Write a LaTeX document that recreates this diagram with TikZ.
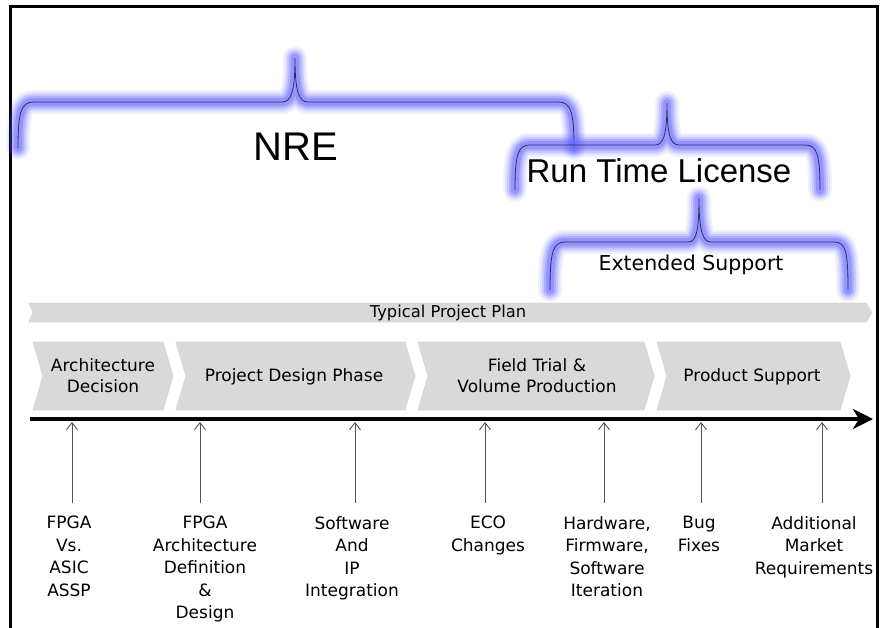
\documentclass[tikz,border=0pt]{standalone}
\usepackage{fontspec}
\setmainfont{Liberation Sans}
\newfontfamily\pixfont{DejaVu Sans}
\usetikzlibrary{arrows.meta}
\definecolor{glowblue}{RGB}{100,100,255}
\definecolor{coreline}{RGB}{45,45,95}
\definecolor{chevfill}{RGB}{217,217,217}
\definecolor{chevedge}{RGB}{228,210,205}
\definecolor{upgray}{RGB}{85,85,85}
\newcommand\glowbrace[1]{%
  \foreach \w/\o in {24/0.08,20/0.12,16/0.18,12/0.25,8/0.35}{%
    \draw[glowblue, line width=\w pt, opacity=\o, line cap=round, line join=round] #1;}%
  \draw[coreline, line width=0.8pt] #1;}
\tikzset{
  chev/.style={fill=chevfill, draw=chevedge, line width=0.8pt},
  chevtext/.style={font=\pixfont\fontsize{17}{21}\selectfont, align=center, inner sep=0pt},
  bottomtext/.style={font=\pixfont\fontsize{17}{22.5}\selectfont, align=center, inner sep=0pt, anchor=north},
  uparrow/.style={draw=upgray, line width=0.9pt, -{Straight Barb[length=7pt,width=11pt]}},
  timeline/.style={line width=4pt, -{Stealth[length=20pt,width=20pt,inset=6pt]}},
}
\begin{document}
\begin{tikzpicture}[x=1pt,y=-1pt]
\useasboundingbox (0,0) rectangle (881,627);
\fill[white] (0,0) rectangle (881,627);
% frame
\draw[line width=3pt] (10,630) -- (10,6) -- (877,6) -- (877,630);

% braces
\glowbrace{(18,148) .. controls (18,112) and (21,102) .. (34,102) -- (282,102) .. controls (291,102) and (295,92) .. (295,58) .. controls (295,92) and (299,102) .. (308,102) -- (558,102) .. controls (571,102) and (574,112) .. (574,148)}
\glowbrace{(515,190) .. controls (515,154) and (518,145) .. (530,145) -- (655,145) .. controls (663,145) and (667,136) .. (667,103) .. controls (667,136) and (671,145) .. (679,145) -- (805,145) .. controls (817,145) and (820,154) .. (820,190)}
\glowbrace{(550,290) .. controls (550,252) and (553,242) .. (565,242) -- (688,242) .. controls (696,242) and (699,232) .. (699,198) .. controls (699,232) and (703,242) .. (711,242) -- (834,242) .. controls (846,242) and (848,252) .. (848,290)}

\node[font=\fontsize{40}{44}\selectfont, inner sep=0pt] (nre) at (296,147) {NRE};
\node[font=\fontsize{33}{36}\selectfont, inner sep=0pt] (rtl) at (659,171) {Run Time License};
\node[font=\pixfont\fontsize{20.5}{24}\selectfont, inner sep=0pt] (ext) at (691,265) {Extended Support};

% typical project plan bar
\path[chev] (29,303) -- (866,303) -- (872,312.5) -- (866,322) -- (29,322) -- (33,312.5) -- cycle;
\node[font=\pixfont\fontsize{16.3}{20}\selectfont, inner sep=0pt] (plan) at (448,313) {Typical Project Plan};

% chevrons
\path[chev] (33,342) -- (163,342) -- (173,376) -- (163,410) -- (33,410) -- (43,376) -- cycle;
\path[chev] (176,342) -- (405,342) -- (415,376) -- (405,410) -- (176,410) -- (186,376) -- cycle;
\path[chev] (418,342) -- (644,342) -- (654,376) -- (644,410) -- (418,410) -- (428,376) -- cycle;
\path[chev] (657,342) -- (840,342) -- (850,376) -- (840,410) -- (657,410) -- (667,376) -- cycle;
\node[chevtext] (c1) at (103,376) {Architecture\\Decision};
\node[chevtext] (c2) at (294,377) {Project Design Phase};
\node[chevtext] (c3) at (537,376) {Field Trial \&\\Volume Production};
\node[chevtext] (c4) at (752,377) {Product Support};

% timeline
\coordinate (t0) at (30,419);
\coordinate (t1) at (873,419);
\draw[timeline] (t0) -- (t1);

% bottom texts
\node[bottomtext] (b1) at (69,516) {FPGA\\Vs.\\ASIC\\ASSP};
\node[bottomtext] (b2) at (205,516) {FPGA\\Architecture\\Definition\\\&\\Design};
\node[bottomtext] (b3) at (352,516) {Software\\And\\IP\\Integration};
\node[bottomtext] (b4) at (488,516) {ECO\\Changes};
\node[bottomtext] (b5) at (607,516) {Hardware,\\Firmware,\\Software\\Iteration};
\node[bottomtext] (b6) at (699,516) {Bug\\Fixes};
\node[bottomtext] (b7) at (814,516) {Additional\\Market\\Requirements};

% up arrows
\foreach \i/\x in {1/72,2/200,3/355,4/485,5/604,6/701,7/822}{
  \coordinate (a\i b) at (\x,503);
  \coordinate (a\i t) at (\x,422);
  \draw[uparrow] (a\i b) -- (a\i t);
}
\end{tikzpicture}
\end{document}
